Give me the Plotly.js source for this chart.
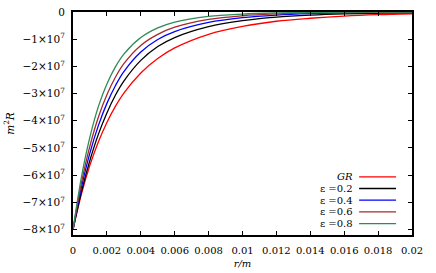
<!DOCTYPE html>
<html>
<head>
<meta charset="utf-8">
<script src="https://cdn.plot.ly/plotly-3.0.1.min.js"></script>
<style>
html,body{margin:0;padding:0;background:#fff;}
#chart{width:436px;height:273px;}
</style>
</head>
<body>
<div id="chart"></div>
<script>
// radius values r/m
const rValues = [0, 0.0005, 0.001, 0.0015, 0.002, 0.0025, 0.003, 0.004, 0.005, 0.006, 0.008, 0.010, 0.012, 0.014, 0.016, 0.018, 0.020];
// m^2 R for each model
const gr    = [-8.0e7, -6.69e7, -5.63e7, -4.77e7, -4.06e7, -3.47e7, -2.98e7, -2.24e7, -1.71e7, -1.32e7, -0.82e7, -0.53e7, -0.34e7, -0.23e7, -0.15e7, -0.10e7, -0.07e7];
const eps02 = [-8.0e7, -6.60e7, -5.45e7, -4.49e7, -3.71e7, -3.06e7, -2.54e7, -1.78e7, -1.27e7, -0.94e7, -0.54e7, -0.32e7, -0.19e7, -0.115e7, -0.07e7, -0.045e7, -0.03e7];
const eps04 = [-8.0e7, -6.44e7, -5.18e7, -4.17e7, -3.36e7, -2.71e7, -2.19e7, -1.47e7, -1.01e7, -0.72e7, -0.385e7, -0.21e7, -0.115e7, -0.063e7, -0.035e7, -0.02e7, -0.012e7];
const eps06 = [-8.0e7, -6.27e7, -4.92e7, -3.86e7, -3.04e7, -2.40e7, -1.90e7, -1.23e7, -0.825e7, -0.56e7, -0.275e7, -0.138e7, -0.07e7, -0.035e7, -0.018e7, -0.009e7, -0.005e7];
const eps08 = [-8.0e7, -6.06e7, -4.59e7, -3.47e7, -2.65e7, -2.02e7, -1.55e7, -0.94e7, -0.585e7, -0.37e7, -0.16e7, -0.075e7, -0.035e7, -0.016e7, -0.008e7, -0.004e7, -0.002e7];

const seriesNames = ['<i>GR</i>', 'ε =0.2', 'ε =0.4', 'ε =0.6', 'ε =0.8'];
const seriesValues = [gr, eps02, eps04, eps06, eps08];
const seriesColors = ['#ff0000', '#000000', '#0000ff', '#a52a2a', '#2e8b57'];

const xTickVals = [0, 0.002, 0.004, 0.006, 0.008, 0.01, 0.012, 0.014, 0.016, 0.018, 0.02];
const xTickText = ['0', '0.002', '0.004', '0.006', '0.008', '0.01', '0.012', '0.014', '0.016', '0.018', '0.02'];
const yTickVals = [0, -1e7, -2e7, -3e7, -4e7, -5e7, -6e7, -7e7, -8e7];
const yTickText = ['0', '−1×10<sup>7</sup>', '−2×10<sup>7</sup>', '−3×10<sup>7</sup>', '−4×10<sup>7</sup>', '−5×10<sup>7</sup>', '−6×10<sup>7</sup>', '−7×10<sup>7</sup>', '−8×10<sup>7</sup>'];

const FONT = 'DejaVu Serif';

const traces = seriesValues.map((vals, i) => ({
  x: rValues, y: vals, type: 'scatter', mode: 'lines', name: seriesNames[i],
  line: {color: seriesColors[i], width: 1.3, shape: 'spline', smoothing: 1},
  showlegend: false, hoverinfo: 'skip'
}));

// gnuplot-style key: right-aligned text with the sample line to its right
const legendTop = 0.261, legendStep = 0.0525;
const annotations = seriesNames.map((n, i) => ({
  xref: 'paper', yref: 'paper', x: 0.832, y: legendTop - i * legendStep,
  xanchor: 'right', yanchor: 'middle', text: n, showarrow: false,
  font: {family: FONT, size: 10, color: '#000'}
}));
const shapes = seriesColors.map((c, i) => ({
  type: 'line', xref: 'paper', yref: 'paper',
  x0: 0.844, x1: 0.953, y0: legendTop - i * legendStep, y1: legendTop - i * legendStep,
  line: {color: c, width: 1.3}
}));

const layout = {
  width: 436, height: 273,
  margin: {l: 73, r: 24, t: 12, b: 38},
  paper_bgcolor: '#fff', plot_bgcolor: '#fff',
  font: {family: FONT, size: 10, color: '#000'},
  showlegend: false,
  xaxis: {
    range: [0, 0.02], tickvals: xTickVals, ticktext: xTickText,
    ticks: 'inside', ticklen: 4, tickwidth: 1, tickcolor: '#000',
    showline: true, linewidth: 2, linecolor: '#000', mirror: 'ticks',
    showgrid: false, zeroline: false, ticklabelstandoff: 5,
    tickfont: {family: FONT, size: 10, color: '#000'},
    title: {text: '<i>r/m</i>', font: {family: FONT, size: 10, color: '#000'}, standoff: 5}
  },
  yaxis: {
    range: [-8.2e7, 0], tickvals: yTickVals, ticktext: yTickText,
    ticks: 'inside', ticklen: 4, tickwidth: 1, tickcolor: '#000',
    showline: true, linewidth: 2, linecolor: '#000', mirror: 'ticks',
    showgrid: false, zeroline: false, ticklabelstandoff: 4,
    tickfont: {family: FONT, size: 10.5, color: '#000'},
    title: {text: '<i>m</i><sup>2</sup><i>R</i>', font: {family: FONT, size: 10.5, color: '#000'}, standoff: 6}
  },
  annotations: annotations,
  shapes: shapes
};

Plotly.newPlot('chart', traces, layout, {staticPlot: true, displayModeBar: false});
</script>
</body>
</html>
